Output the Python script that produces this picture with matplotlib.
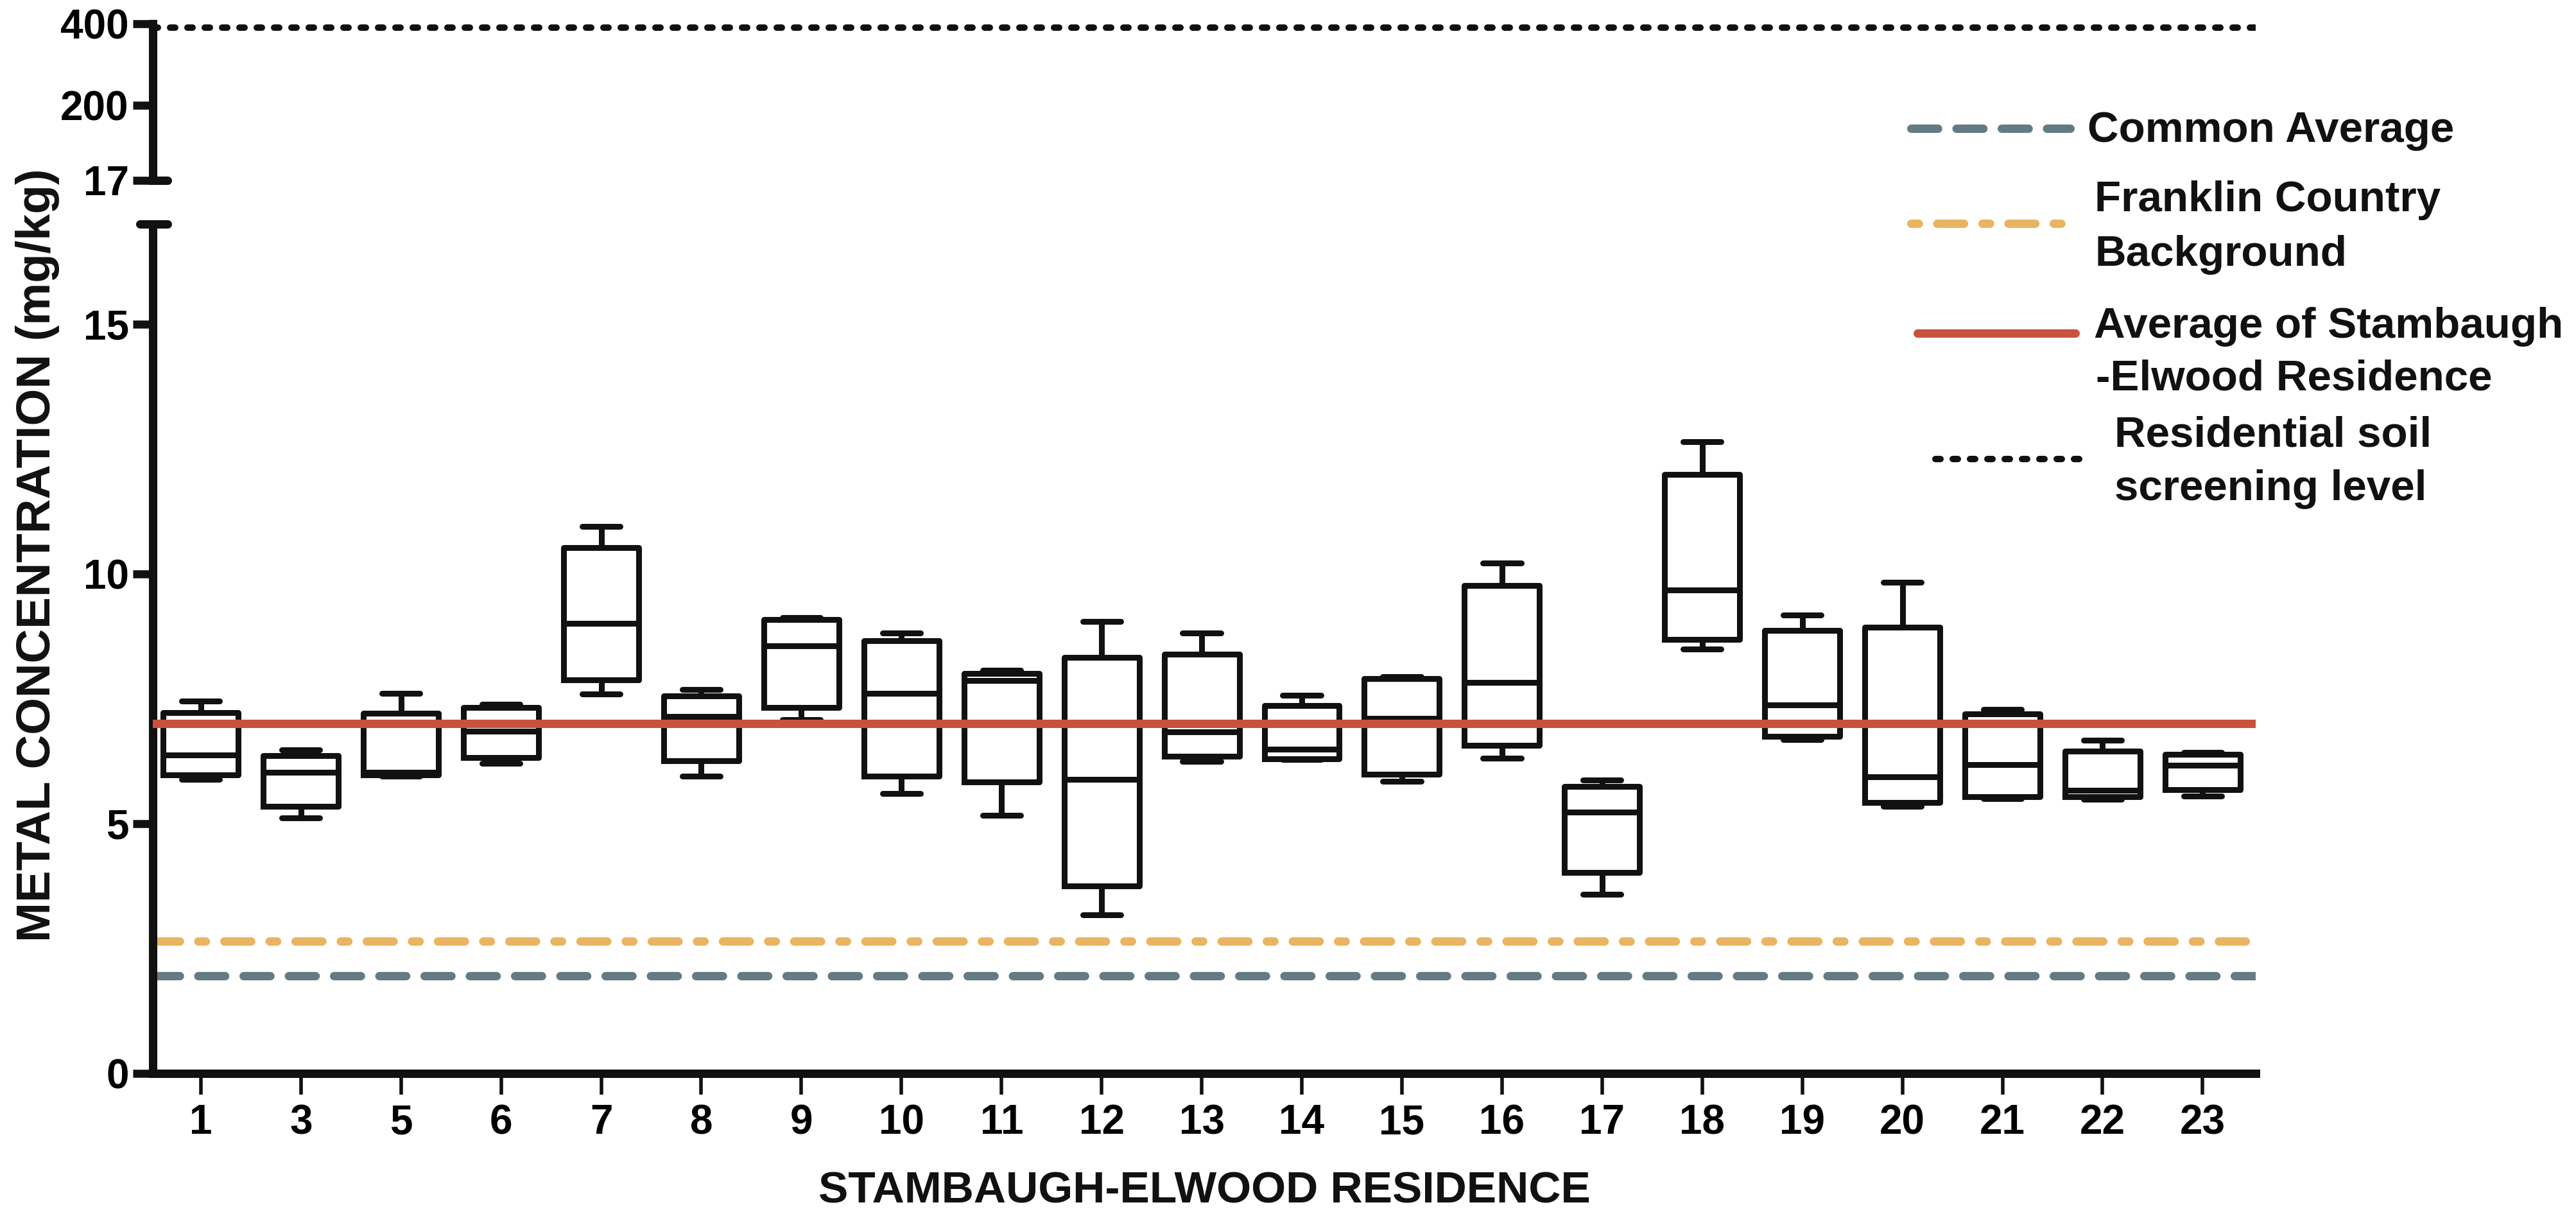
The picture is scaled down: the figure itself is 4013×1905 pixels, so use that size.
import matplotlib
matplotlib.use("Agg")
import matplotlib.pyplot as plt
from matplotlib.lines import Line2D

# ---------------- data ----------------
categories = ["1", "3", "5", "6", "7", "8", "9", "10", "11", "12", "13",
              "14", "15", "16", "17", "18", "19", "20", "21", "22", "23"]
whislo = [5.89, 5.11, 5.95, 6.21, 7.59, 5.95, 7.08, 5.60, 5.17, 3.17, 6.25,
          6.28, 5.85, 6.31, 3.58, 8.50, 6.68, 5.35, 5.50, 5.49, 5.55]
q1 = [5.97, 5.34, 5.97, 6.32, 7.88, 6.26, 7.33, 5.95, 5.84, 3.75, 6.35,
      6.30, 5.99, 6.56, 4.02, 8.69, 6.75, 5.42, 5.54, 5.54, 5.68]
med = [6.37, 6.03, 6.03, 6.85, 9.01, 7.15, 8.56, 7.61, 7.86, 5.89, 6.84,
       6.49, 7.10, 7.82, 5.23, 9.68, 7.38, 5.94, 6.18, 5.67, 6.17]
q3 = [7.22, 6.36, 7.21, 7.33, 10.53, 7.56, 9.08, 8.66, 8.00, 8.33, 8.39,
      7.36, 7.90, 9.76, 5.74, 11.99, 8.86, 8.93, 7.19, 6.45, 6.39]
whishi = [7.45, 6.47, 7.61, 7.39, 10.95, 7.69, 9.12, 8.82, 8.07, 9.04, 8.82,
          7.57, 7.94, 10.21, 5.87, 12.64, 9.18, 9.83, 7.29, 6.67, 6.43]

common_average = 1.95
franklin_background = 2.65
stambaugh_average = 7.0
screening_level = 390

lower_ticks = [0, 5, 10, 15]
upper_ticks = [17, 200, 400]

legend_labels = ["Common Average",
                 ["Franklin Country", "Background"],
                 ["Average of Stambaugh", "-Elwood Residence"],
                 ["Residential soil", "screening level"]]
xlabel = "STAMBAUGH-ELWOOD RESIDENCE"
ylabel = "METAL CONCENTRATION (mg/kg)"

# ---------------- style ----------------
BLACK = "#111111"
GRAY = "#647B84"
ORANGE = "#EBB462"
RED = "#C9523C"

plt.rcParams['font.family'] = ['Liberation Sans', 'DejaVu Sans']
plt.rcParams['font.weight'] = 'bold'

W, H = 4013, 1905
fig = plt.figure(figsize=(W / 100, H / 100), dpi=100)


def fx(px):
    return px / W


def fy(py):
    return 1 - py / H


x_left, x_right = 238, 3514
ax = fig.add_axes([fx(x_left), fy(1672), fx(x_right) - fx(x_left), fy(349) - fy(1672)])
axt = fig.add_axes([fx(x_left), fy(281), fx(x_right) - fx(x_left), fy(37) - fy(281)])

SPW = 9.4

# ---- lower axes: boxplots ----
stats = []
for i, c in enumerate(categories):
    stats.append(dict(label=c, whislo=whislo[i], q1=q1[i], med=med[i],
                      q3=q3[i], whishi=whishi[i]))
pos = list(range(len(categories)))
lp = dict(color=BLACK, linewidth=6.5, solid_capstyle='butt')
ax.bxp(stats, positions=pos, widths=0.75, capwidths=0.38, showfliers=False,
       boxprops=dict(color=BLACK, linewidth=6.5),
       whiskerprops=lp, capprops=dict(color=BLACK, linewidth=6.5, solid_capstyle='round'),
       medianprops=dict(color=BLACK, linewidth=6.5), zorder=3)

ax.axhline(common_average, color=GRAY, lw=9.4, ls=(0, (3.2, 2.2)),
           dash_capstyle='round', zorder=2)
ax.axhline(franklin_background, color=ORANGE, lw=9.4,
           ls=(0, (3.2, 2.2, 0.9, 2.2)), dash_capstyle='round', zorder=2)
ax.axhline(stambaugh_average, color=RED, lw=9.4, solid_capstyle='round', zorder=4)

ax.set_xlim(-0.48, 20.53)
ax.set_ylim(0, 17)
ax.set_yticks(lower_ticks)
ax.set_yticklabels([str(t) for t in lower_ticks])
ax.set_xticks(pos)
ax.set_xticklabels(categories)
for s in ['top', 'right']:
    ax.spines[s].set_visible(False)
for s in ['left', 'bottom']:
    ax.spines[s].set_linewidth(SPW)
    ax.spines[s].set_color(BLACK)
    ax.spines[s].set_capstyle('projecting')
ax.tick_params(axis='y', direction='out', length=22, width=9, color=BLACK,
               labelsize=46, pad=5)
ax.tick_params(axis='x', direction='out', length=24, width=4, color=BLACK,
               labelsize=46, pad=10)
for lab in ax.get_xticklabels() + ax.get_yticklabels():
    lab.set_fontweight('bold')

# break cap on lower axis top
ax.plot([-0.0061, 0.0070], [17, 17], transform=ax.get_yaxis_transform(),
        color=BLACK, lw=SPW, solid_capstyle='round', clip_on=False, zorder=5)

# ---- upper axes ----
axt.axhline(screening_level, color=BLACK, lw=7.2, ls=(0, (0.8, 1.9)),
            dash_capstyle='round')
axt.set_xlim(-0.48, 20.53)
axt.set_ylim(17, 400)
axt.set_yticks(upper_ticks)
axt.set_yticklabels([str(t) for t in upper_ticks])
axt.set_xticks([])
for s in ['top', 'right', 'bottom']:
    axt.spines[s].set_visible(False)
axt.spines['left'].set_linewidth(SPW)
axt.spines['left'].set_color(BLACK)
axt.tick_params(axis='y', direction='out', length=22, width=9, color=BLACK,
                labelsize=46, pad=5)
for lab in axt.get_yticklabels():
    lab.set_fontweight('bold')
axt.plot([0, 0.0070], [17, 17], transform=axt.get_yaxis_transform(),
         color=BLACK, lw=SPW, solid_capstyle='round', clip_on=False, zorder=5)
axt.patch.set_alpha(0)

# ---- axis titles ----
fig.text(fx(59), fy(865), ylabel, rotation=90, ha='center', va='center',
         fontsize=53.5, fontweight='bold', color=BLACK)
fig.text(fx(1876), fy(1855), xlabel, ha='center', va='center',
         fontsize=50, fontweight='bold', color=BLACK)

# ---- legend (drawn manually) ----
fs_leg = 48.5
fig.add_artist(Line2D([fx(2977), fx(3225)], [fy(200), fy(200)], color=GRAY,
                      lw=9.4, ls=(0, (3.2, 2.2)), dash_capstyle='round'))
fig.text(fx(3252), fy(204), legend_labels[0], va='center', fontsize=fs_leg,
         fontweight='bold', color=BLACK)

fig.add_artist(Line2D([fx(2977), fx(3225)], [fy(348), fy(348)], color=ORANGE,
                      lw=9.4, ls=(0, (0.9, 2.2, 3.2, 2.2)), dash_capstyle='round'))
fig.text(fx(3263), fy(312), legend_labels[1][0], va='center', fontsize=fs_leg,
         fontweight='bold', color=BLACK)
fig.text(fx(3263), fy(397), legend_labels[1][1], va='center', fontsize=fs_leg,
         fontweight='bold', color=BLACK)

fig.add_artist(Line2D([fx(2987), fx(3233)], [fy(519), fy(519)], color=RED,
                      lw=9.4, solid_capstyle='round'))
fig.text(fx(3262), fy(509), legend_labels[2][0], va='center', fontsize=fs_leg,
         fontweight='bold', color=BLACK)
fig.text(fx(3265), fy(591), legend_labels[2][1], va='center', fontsize=fs_leg,
         fontweight='bold', color=BLACK)

fig.add_artist(Line2D([fx(3015), fx(3252)], [fy(715), fy(715)], color=BLACK,
                      lw=7.2, ls=(0, (0.8, 1.9)), dash_capstyle='round'))
fig.text(fx(3294), fy(678), legend_labels[3][0], va='center', fontsize=fs_leg,
         fontweight='bold', color=BLACK)
fig.text(fx(3294), fy(762), legend_labels[3][1], va='center', fontsize=fs_leg,
         fontweight='bold', color=BLACK)

fig.savefig("out.png", dpi=100, facecolor='white')
